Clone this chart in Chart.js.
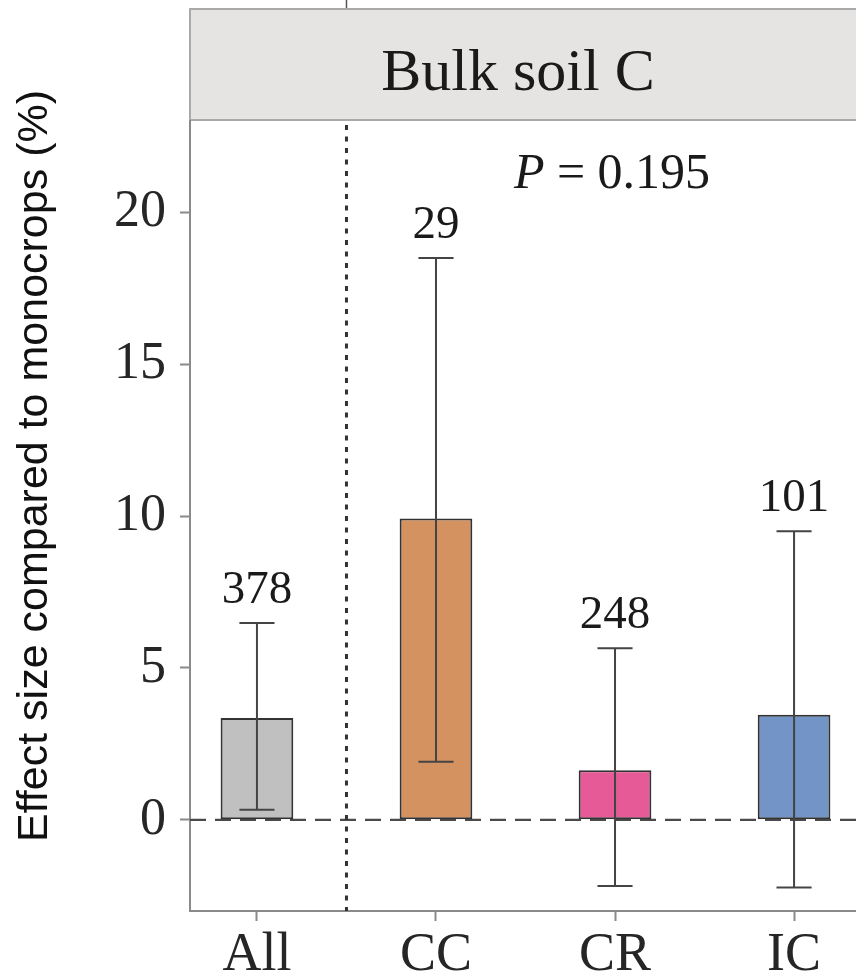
<!DOCTYPE html>
<html>
<head>
<meta charset="utf-8">
<script src="https://cdn.jsdelivr.net/npm/chart.js@4/dist/chart.umd.min.js"></script>
<style>
  html, body { margin: 0; padding: 0; background: #ffffff; }
  #wrap { width: 856px; height: 976px; }
</style>
</head>
<body>
<div id="wrap"><canvas id="c" width="856" height="976"></canvas></div>
<script>
// ---- data ----
const categories = ['All', 'CC', 'CR', 'IC'];
const effectValues = [3.35, 9.92, 1.63, 3.46];
const errorLow = [0.33, 1.91, -2.18, -2.23];
const errorHigh = [6.48, 18.49, 5.65, 9.50];
const sampleSizes = ['378', '29', '248', '101'];
const barColors = ['#c0c0c0', '#d3925f', '#e65a97', '#7294c6'];
const yTickValues = [0, 5, 10, 15, 20];
const panelTitle = 'Bulk soil C';
const pLabel = 'P';
const pValueText = ' = 0.195';
const yAxisTitle = 'Effect size compared to monocrops (%)';
const separatorAt = 1.5;

const SERIF = '"Liberation Serif", "DejaVu Serif", serif';
const SANS = '"Liberation Sans", Arial, sans-serif';

const decorPlugin = {
  id: 'decor',
  beforeDraw(chart) {
    const ctx = chart.ctx;
    const area = chart.chartArea;
    ctx.save();
    ctx.fillStyle = '#ffffff';
    ctx.fillRect(0, 0, chart.width, chart.height);
    // strip
    ctx.fillStyle = '#e6e4e3';
    ctx.fillRect(area.left, 8, chart.width - area.left, area.top - 9);
    ctx.strokeStyle = '#a9a9a9';
    ctx.lineWidth = 2;
    ctx.beginPath();
    ctx.moveTo(area.left, 9); ctx.lineTo(chart.width, 9);
    ctx.moveTo(area.left, area.top - 1); ctx.lineTo(chart.width, area.top - 1);
    ctx.moveTo(area.left, 8); ctx.lineTo(area.left, area.top);
    ctx.stroke();
    // small mark above strip
    const xs = chart.scales.x.getPixelForValue(separatorAt);
    ctx.strokeStyle = '#555';
    ctx.lineWidth = 1.5;
    ctx.beginPath(); ctx.moveTo(xs, 0); ctx.lineTo(xs, 8); ctx.stroke();
    ctx.fillStyle = '#1a1a1a';
    ctx.font = '60px ' + SERIF;
    ctx.textAlign = 'center';
    ctx.textBaseline = 'alphabetic';
    ctx.fillText(panelTitle, 518, 90);
    // y axis title
    ctx.translate(35, 466);
    ctx.rotate(-Math.PI / 2);
    ctx.font = '43px ' + SANS;
    ctx.fillStyle = '#111';
    ctx.textAlign = 'center';
    ctx.textBaseline = 'middle';
    ctx.fillText(yAxisTitle, 0, 0);
    ctx.restore();
  },
  beforeDatasetsDraw(chart) {
    const ctx = chart.ctx;
    const area = chart.chartArea;
    const x = chart.scales.x, y = chart.scales.y;
    ctx.save();
    // zero dashed line
    const y0 = y.getPixelForValue(0);
    ctx.strokeStyle = '#4a4a4a';
    ctx.lineWidth = 2.2;
    ctx.setLineDash([16, 9]);
    ctx.beginPath(); ctx.moveTo(area.left, y0); ctx.lineTo(area.right, y0); ctx.stroke();
    // separator dotted line
    const xs = x.getPixelForValue(separatorAt);
    ctx.strokeStyle = '#333';
    ctx.lineWidth = 3;
    ctx.setLineDash([5, 6.5]);
    ctx.beginPath(); ctx.moveTo(xs, area.top + 4); ctx.lineTo(xs, area.bottom); ctx.stroke();
    ctx.restore();
  },
  afterDatasetsDraw(chart) {
    const ctx = chart.ctx;
    const x = chart.scales.x, y = chart.scales.y;
    ctx.save();
    ctx.strokeStyle = '#444';
    ctx.lineWidth = 2;
    categories.forEach((c, i) => {
      const xc = x.getPixelForValue(i + 1);
      const xl = x.getPixelForValue(i + 1 - 0.098);
      const xr = x.getPixelForValue(i + 1 + 0.098);
      const yl = y.getPixelForValue(errorLow[i]);
      const yh = y.getPixelForValue(errorHigh[i]);
      ctx.beginPath();
      ctx.moveTo(xc, yl); ctx.lineTo(xc, yh);
      ctx.moveTo(xl, yl); ctx.lineTo(xr, yl);
      ctx.moveTo(xl, yh); ctx.lineTo(xr, yh);
      ctx.stroke();
      ctx.fillStyle = '#1a1a1a';
      ctx.font = '47px ' + SERIF;
      ctx.textAlign = 'center';
      ctx.textBaseline = 'alphabetic';
      ctx.fillText(sampleSizes[i], xc, yh - 20);
    });
    // P value
    ctx.font = 'italic 50px ' + SERIF;
    const wP = ctx.measureText(pLabel).width;
    ctx.font = '50px ' + SERIF;
    const wR = ctx.measureText(pValueText).width;
    const startX = 612 - (wP + wR) / 2;
    ctx.textAlign = 'left';
    ctx.fillStyle = '#1a1a1a';
    ctx.font = 'italic 50px ' + SERIF;
    ctx.fillText(pLabel, startX, 188);
    ctx.font = '50px ' + SERIF;
    ctx.fillText(pValueText, startX + wP, 188);
    ctx.restore();
  }
};

new Chart(document.getElementById('c'), {
  type: 'bar',
  data: {
    datasets: [{
      data: categories.map((c, i) => ({ x: i + 1, y: effectValues[i] })),
      backgroundColor: barColors,
      borderColor: '#333',
      borderWidth: 2,
      borderSkipped: false,
      barPercentage: 0.406,
      categoryPercentage: 1.0
    }]
  },
  options: {
    responsive: false,
    devicePixelRatio: 1,
    animation: false,
    events: [],
    layout: { padding: { top: 121, left: 0, right: 0, bottom: 0 } },
    plugins: { legend: { display: false }, tooltip: { enabled: false } },
    scales: {
      x: {
        type: 'linear',
        offset: false,
        min: 0.626,
        max: 4.346,
        afterBuildTicks: (s) => { s.ticks = categories.map((c, i) => ({ value: i + 1 })); },
        afterFit: (s) => { s.height = 65; },
        ticks: {
          callback: (v, i) => categories[i],
          font: { family: SERIF, size: 54 },
          color: '#262626',
          padding: 2,
          maxRotation: 0,
          autoSkip: false
        },
        grid: { offset: false, drawOnChartArea: false, drawTicks: true, tickLength: 10, tickColor: '#8a8a8a', tickWidth: 2 },
        border: { display: true, color: '#8a8a8a', width: 2 }
      },
      y: {
        min: -3,
        max: 23,
        afterBuildTicks: (s) => { s.ticks = yTickValues.map(v => ({ value: v })); },
        afterFit: (s) => { s.width = 190; },
        ticks: {
          font: { family: SERIF, size: 52 },
          color: '#262626',
          padding: 14
        },
        grid: { drawOnChartArea: false, drawTicks: true, tickLength: 10, tickColor: '#8a8a8a', tickWidth: 2 },
        border: { display: true, color: '#8a8a8a', width: 2 }
      }
    }
  },
  plugins: [decorPlugin]
});
</script>
</body>
</html>
